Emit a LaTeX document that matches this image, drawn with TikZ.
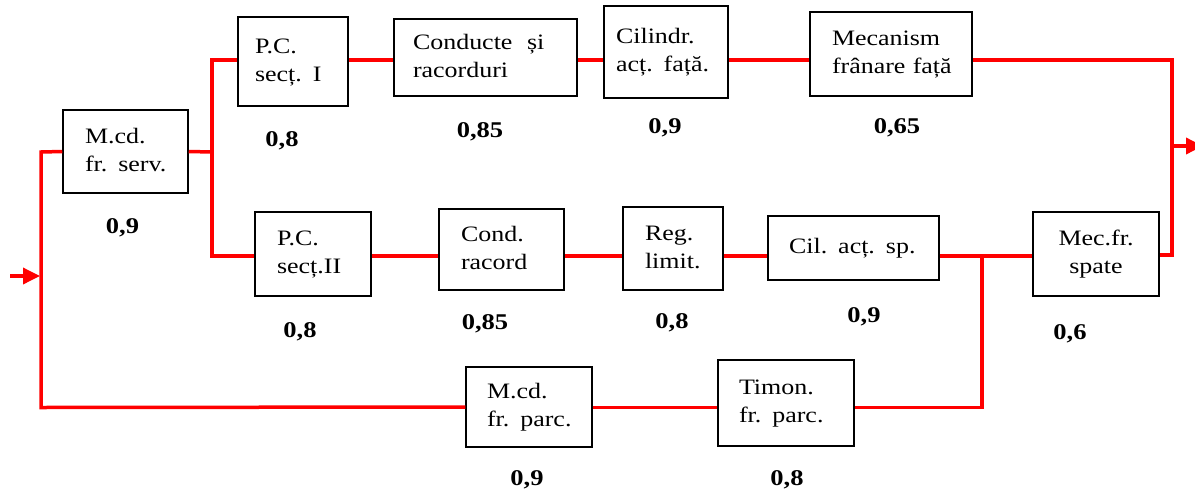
\documentclass[tikz,border=0pt]{standalone}
\usepackage{fontspec}
\setmainfont{Liberation Serif}[FakeStretch=1.18]
\usetikzlibrary{arrows.meta}
\definecolor{wirered}{RGB}{255,0,0}
% block caption: lines kept unbroken, set flush left
\newcommand\blk[1]{\begin{tabular}{@{}l@{}}#1\end{tabular}}
\begin{document}
\begin{tikzpicture}[x=1pt,y=-1pt,
  font=\fontsize{22}{28}\selectfont,
  box/.style n args={3}{draw=black,line width=1.5pt,fill=white,align=left,
    text width=#1,inner xsep=#2,inner ysep=0pt,minimum height=#3},
  cbox/.style n args={3}{draw=black,line width=1.5pt,fill=white,align=center,
    text width=#1,inner xsep=#2,inner ysep=0pt,minimum height=#3},
  wire/.style={draw=wirered,line width=3.5pt,line join=miter},
  arr/.style={wire,-{Triangle[length=17pt,width=16pt]}},
  rel/.style={font=\fontsize{22.5}{27}\selectfont\bfseries,anchor=base,inner sep=0pt}]
\useasboundingbox (0,0) rectangle (1195,488);

% junction points of the wiring
\coordinate (in)   at (10,276);
\coordinate (inj)  at (40,276);
\coordinate (lt)   at (41,152);
\coordinate (lb)   at (41,407.5);
\coordinate (sj)   at (212,152);
\coordinate (st)   at (212,60);
\coordinate (sb)   at (212,256);
\coordinate (rt)   at (1172,60);
\coordinate (rb)   at (1172,255);
\coordinate (out)  at (1172,146);
\coordinate (outend) at (1203,146);
\coordinate (bj)   at (982,256);
\coordinate (bb)   at (982,407.5);

% blocks
\node[box={81pt}{22pt}{83pt}]  (serv)  at (125.5,151.5) {\blk{M.cd.\\fr. serv.}};
\node[box={76pt}{17pt}{89pt}]  (pc1)   at (293,61.5)    {\blk{P.C.\\secț. I}};
\node[box={145pt}{19pt}{77pt}] (cond)  at (485.5,57.5)  {\blk{Conducte\ \ și\\racorduri}};
\node[box={100pt}{12pt}{92pt}] (cil)   at (666,52)      {\blk{Cilindr.\\acț. față.}};
\node[box={118pt}{22pt}{84pt}] (mec)   at (891,54)      {\blk{Mecanism\\frânare față}};
\node[box={72pt}{22pt}{84pt}]  (pc2)   at (313,254)     {\blk{P.C.\\secț.II}};
\node[box={81pt}{22pt}{81pt}]  (condr) at (501.5,249.5) {\blk{Cond.\\racord}};
\node[box={56pt}{22pt}{83pt}]  (reg)   at (673,248.5)   {\blk{Reg.\\limit.}};
\node[box={129pt}{21pt}{64pt}] (cilsp) at (853.5,248)   {\blk{Cil. acț. sp.}};
\node[cbox={106pt}{10pt}{84pt}] (mecsp) at (1096,254)   {Mec.fr.\\spate};
\node[box={84pt}{21pt}{80pt}]  (parc)  at (529,407)     {\blk{M.cd.\\fr. parc.}};
\node[box={94pt}{21pt}{86pt}]  (timon) at (786,403)     {\blk{Timon.\\fr. parc.}};

% reliabilities
\node[rel] (r1)  at (122.5,233) {0,9};
\node[rel] (r2)  at (282,146)   {0,8};
\node[rel] (r3)  at (480,137)   {0,85};
\node[rel] (r4)  at (665,133)   {0,9};
\node[rel] (r5)  at (897,133)   {0,65};
\node[rel] (r6)  at (300,337)   {0,8};
\node[rel] (r7)  at (485,329)   {0,85};
\node[rel] (r8)  at (672,328)   {0,8};
\node[rel] (r9)  at (864,322)   {0,9};
\node[rel] (r10) at (1070,339)  {0,6};
\node[rel] (r11) at (527,485)   {0,9};
\node[rel] (r12) at (787,485)   {0,8};

% input and left bus
\draw[arr] (in) -- (inj);
\draw[wire] (serv.west) -- (lt) -- (lb) -- (parc.west);
% split after the service brake control
\draw[wire] (serv.east) -- (sj);
\draw[wire] (pc1.west |- st) -- (st) -- (sb) -- (pc2.west |- sb);
% front circuit
\draw[wire] (pc1.east |- st) -- (cond.west |- st);
\draw[wire] (cond.east |- st) -- (cil.west |- st);
\draw[wire] (cil.east |- st) -- (mec.west |- st);
\draw[wire] (mec.east |- rt) -- (rt) -- (rb) -- (mecsp.east |- rb);
\draw[arr] (out) -- (outend);
% rear circuit
\draw[wire] (pc2.east |- sb) -- (condr.west |- sb);
\draw[wire] (condr.east |- sb) -- (reg.west |- sb);
\draw[wire] (reg.east |- sb) -- (cilsp.west |- sb);
\draw[wire] (cilsp.east |- bj) -- (mecsp.west |- bj);
% parking brake branch
\draw[wire] (parc.east |- lb) -- (timon.west |- lb);
\draw[wire] (timon.east |- bb) -- (bb) -- (bj);
\end{tikzpicture}
\end{document}
